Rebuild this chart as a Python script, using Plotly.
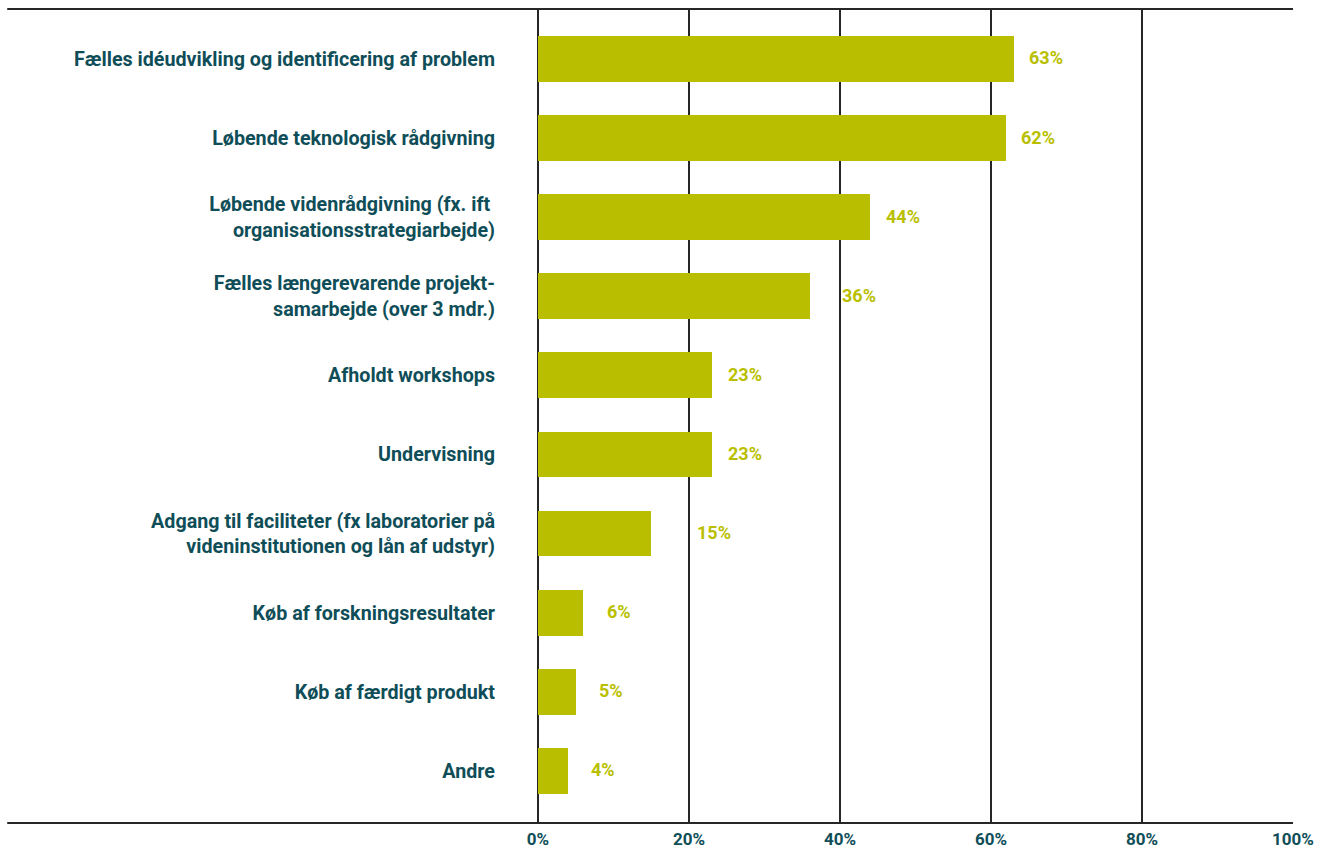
import plotly.graph_objects as go

# Forms of collaboration with knowledge institutions (share of respondents, %)
categories = [
    "Fælles idéudvikling og identificering af problem",
    "Løbende teknologisk rådgivning",
    "Løbende videnrådgivning (fx. ift <br>organisationsstrategiarbejde)",
    "Fælles længerevarende projekt-<br>samarbejde (over 3 mdr.)",
    "Afholdt workshops",
    "Undervisning",
    "Adgang til faciliteter (fx laboratorier på<br>videninstitutionen og lån af udstyr)",
    "Køb af forskningsresultater",
    "Køb af færdigt produkt",
    "Andre",
]
values = [63, 62, 44, 36, 23, 23, 15, 6, 5, 4]
x_ticks = [0, 20, 40, 60, 80, 100]
x_tick_labels = ["0%", "20%", "40%", "60%", "80%", "100%"]

# horizontal pixel gap between each bar end and its value label
label_gaps = [13, 13, 14, 30, 14, 14, 44, 22, 21, 21]

BAR = "#b9bf00"
TEXT = "#0f4e58"
GRID = "#262626"
FONT = "Roboto, sans-serif"

fig = go.Figure(
    go.Bar(
        x=values,
        y=categories,
        orientation="h",
        marker=dict(color=BAR, line=dict(width=0)),
        width=0.58,
        hoverinfo="skip",
    )
)

for cat, val, gap in zip(categories, values, label_gaps):
    fig.add_annotation(
        x=val, y=cat, text=f"{val}%", showarrow=False,
        xanchor="left", yanchor="middle", xshift=gap, yshift=1,
        font=dict(family=FONT, size=18, color=BAR, weight="bold"),
    )

# frame lines running across the full width at top and bottom
for yp in (0, 1):
    fig.add_shape(
        type="line", xref="paper", yref="paper",
        x0=-0.703, x1=1, y0=yp, y1=yp,
        line=dict(color=GRID, width=2),
    )

fig.update_layout(
    width=1328, height=850,
    margin=dict(l=538, r=35, t=9, b=27),
    paper_bgcolor="white", plot_bgcolor="white",
    showlegend=False,
    bargap=0,
    xaxis=dict(
        range=[0, 100], tickvals=x_ticks, ticktext=x_tick_labels,
        showgrid=True, gridcolor=GRID, gridwidth=1.5,
        zeroline=True, zerolinecolor=GRID, zerolinewidth=1.5,
        showline=False, ticks="", automargin=False,
        ticklabelstandoff=4,
        tickfont=dict(family=FONT, size=17, color=TEXT, weight="bold"),
        fixedrange=True,
    ),
    yaxis=dict(
        categoryorder="array", categoryarray=categories,
        range=[9.66, -0.632],
        showgrid=False, zeroline=False, showline=False, ticks="",
        automargin=False,
        ticklabelstandoff=42,
        tickfont=dict(family=FONT, size=19.7, color=TEXT, weight="bold"),
        fixedrange=True,
    ),
)

fig.write_html("out.html")
